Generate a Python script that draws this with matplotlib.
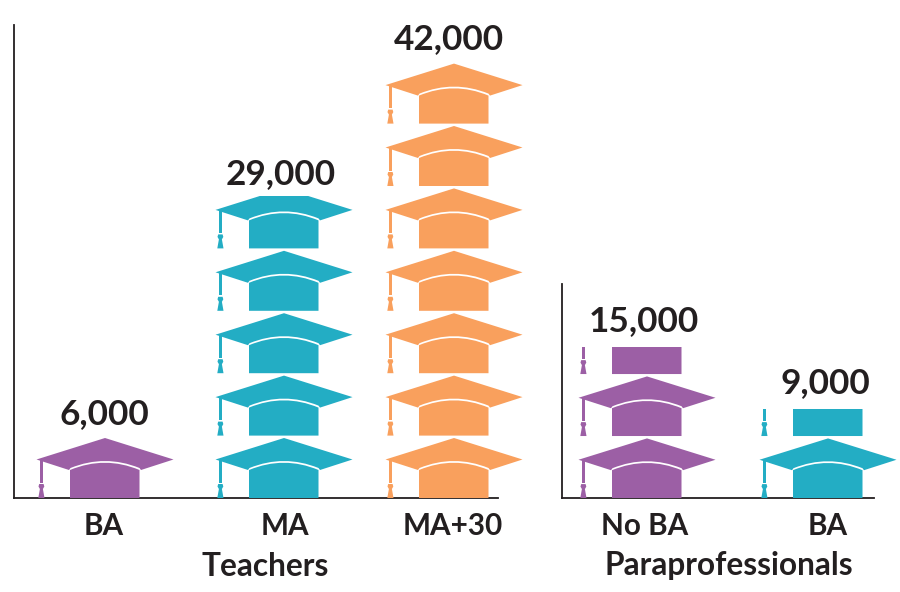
import matplotlib
matplotlib.use("Agg")
import matplotlib.pyplot as plt
from matplotlib.patches import PathPatch, Rectangle
from matplotlib.path import Path

teacher_labels = ["BA", "MA", "MA+30"]
teacher_values = [6000, 29000, 42000]
para_labels = ["No BA", "BA"]
para_values = [15000, 9000]
value_per_hat = 6000

PURPLE = "#9C5FA5"
TEAL = "#23ADC4"
ORANGE = "#F9A05D"
INK = "#231F20"
teacher_colors = [PURPLE, TEAL, ORANGE]
para_colors = [PURPLE, TEAL]

# positions in pixels along each panel's x axis
teacher_x = [91, 270, 440]
para_x = [85, 266]
teacher_label_x = [90, 271, 439]
para_label_x = [83, 266]
teacher_text_x = [90, 267, 435]
para_text_x = [82, 263]

plt.rcParams["font.family"] = ["Lato", "DejaVu Sans"]
W, H = 900, 592
fig = plt.figure(figsize=(W / 100, H / 100), dpi=100, facecolor="white")


def make_axes(x0, x1, ytop, ybot, px_per_k):
    ax = fig.add_axes([x0 / W, 1 - ybot / H, (x1 - x0) / W, (ybot - ytop) / H])
    ax.set_xlim(0, x1 - x0)
    ax.set_ylim(0, (ybot - ytop) / px_per_k * 1000)
    ax.patch.set_visible(False)
    for s in ("top", "right"):
        ax.spines[s].set_visible(False)
    for s in ("left", "bottom"):
        ax.spines[s].set_linewidth(1.3)
        ax.spines[s].set_color(INK)
    ax.set_yticks([])
    ax.tick_params(axis="x", length=0)
    return ax


def hat_paths(cx, base, unit):
    sy = unit / 62.4
    def P(pts, codes=None):
        return Path([(cx + x, base + y * sy) for x, y in pts], codes)
    board = P(
        [(0, 60), (68.5, 38.5), (36, 28), (34.5, 30), (0, 44), (-34.5, 30),
         (-36, 28), (-68.5, 38.5), (0, 60)],
        [Path.MOVETO, Path.LINETO, Path.LINETO, Path.LINETO, Path.CURVE3,
         Path.CURVE3, Path.LINETO, Path.LINETO, Path.CLOSEPOLY],
    )
    body = P(
        [(-35, 0), (-35, 28), (0, 42.5), (34.5, 28), (34.5, 0), (-35, 0)],
        [Path.MOVETO, Path.LINETO, Path.CURVE3, Path.CURVE3, Path.LINETO,
         Path.CLOSEPOLY],
    )
    string = P([(-65.4, 38), (-61.8, 38), (-61.8, 15.5), (-65.4, 15.5), (-65.4, 38)])
    tassel = P(
        [(-65.8, 14), (-61.4, 14), (-60.7, 11.5), (-62.1, 9), (-60.5, 0),
         (-66.7, 0), (-65.1, 9), (-66.5, 11.5), (-65.8, 14)]
    )
    return board, body, string, tassel


def draw_column(ax, cx, value, color, trim):
    clip = Rectangle((cx - 90, 0), 180, value - trim, transform=ax.transData)
    n = 0
    while n * value_per_hat < value:
        for path in hat_paths(cx, n * value_per_hat, value_per_hat):
            patch = PathPatch(path, facecolor=color, edgecolor="none", zorder=3)
            ax.add_patch(patch)
            patch.set_clip_path(clip)
        n += 1


def fill(ax, xs, label_xs, text_xs, labels, values, colors, group, group_x, trim=0):
    for x, tx, v, c in zip(xs, text_xs, values, colors):
        draw_column(ax, x, v, c, trim)
        ax.annotate(f"{v:,}", xy=(tx, v), xytext=(0, 12), textcoords="offset pixels",
                    ha="center", va="baseline", fontsize=25.3, fontweight="bold",
                    color=INK, annotation_clip=False)
    ax.set_xticks(label_xs, labels)
    ax.tick_params(axis="x", labelsize=21.3, labelcolor=INK, pad=10)
    for t in ax.get_xticklabels():
        t.set_fontweight("bold")
    ax.set_xlabel(group, fontsize=22.8, fontweight="bold", color=INK)
    ax.xaxis.set_label_coords(group_x, -53.5 / ax.bbox.height)


left = make_axes(14, 498, 25, 498, 10.4)
right = make_axes(562, 874, 284, 498, 10.33)
fill(left, teacher_x, teacher_label_x, teacher_text_x, teacher_labels,
     teacher_values, teacher_colors, "Teachers", 0.52)
fill(right, para_x, para_label_x, para_text_x, para_labels,
     para_values, para_colors, "Paraprofessionals", 0.535, trim=400)

fig.savefig("out.png", dpi=100, facecolor="white")
